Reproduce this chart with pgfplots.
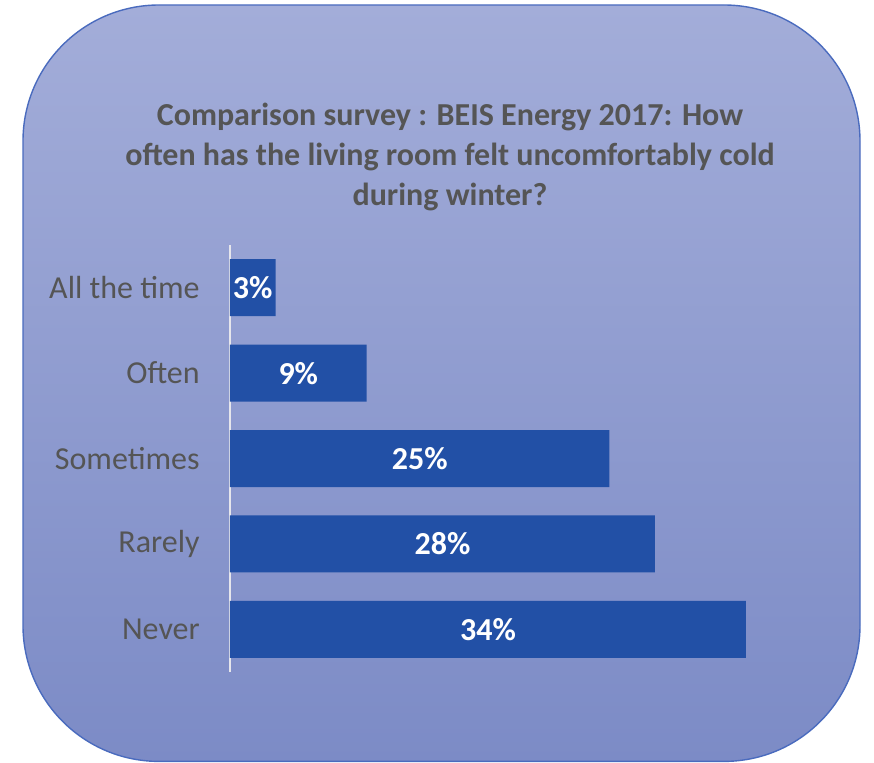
\documentclass[border=0pt]{standalone}
\usepackage{fontspec}
\setmainfont{Carlito}
\usepackage{pgfplots}
\usepackage{pgfplotstable}
\pgfplotsset{compat=1.18}

\definecolor{bgtop}{HTML}{A3ADD9}
\definecolor{bgbot}{HTML}{7C8BC6}
\definecolor{frame}{HTML}{4A6BBE}
\definecolor{barblue}{HTML}{2250A6}
\definecolor{txtgray}{HTML}{555555}
\definecolor{axisline}{HTML}{E6E6EC}

% pos: 4 = top row
\pgfplotstableread{
pos v
4 3
3 9
2 25
1 28
0 34
}\survey

\begin{document}
\begin{tikzpicture}
\path (0,0) rectangle (437pt,381pt);
\shadedraw[top color=bgtop, bottom color=bgbot, draw=frame, line width=0.7pt,
  rounded corners=68pt] (11.5pt,0.3pt) rectangle (430pt,378.5pt);

\node[align=center, font=\fontsize{16}{20}\selectfont\bfseries, text=txtgray]
  at (225pt,302.5pt)
  {Comparison survey : BEIS Energy 2017: How\\
   often has the living room felt uncomfortably cold\\
   during winter?};

\begin{axis}[
  at={(115pt,45pt)}, anchor=south west,
  scale only axis,
  width=258pt, height=213.5pt,
  xmin=0, xmax=34,
  ymin=-0.5, ymax=4.5,
  axis x line=none,
  axis y line=left,
  y axis line style={draw=axisline, line width=0.8pt, -},
  ytick={0,1,2,3,4},
  yticklabels={Never,Rarely,Sometimes,Often,All the time},
  ytick style={draw=none},
  yticklabel style={font=\fontsize{16}{19}\selectfont, text=txtgray, anchor=east, xshift=-9.5pt},
  /pgf/number format/assume math mode=true,
  clip=false,
]
\addplot[xbar, bar width=28.5pt, bar shift=0pt, fill=barblue, draw=none]
  table[x=v, y=pos] {\survey};
\addplot[only marks, mark=none,
  nodes near coords={\pgfmathprintnumber{\pgfplotspointmeta}\%},
  point meta=explicit,
  nodes near coords style={anchor=center, text=white,
    font=\fontsize{16}{19}\selectfont\bfseries}]
  table[x expr=\thisrow{v}/2, y=pos, meta=v] {\survey};
\end{axis}
\end{tikzpicture}
\end{document}
